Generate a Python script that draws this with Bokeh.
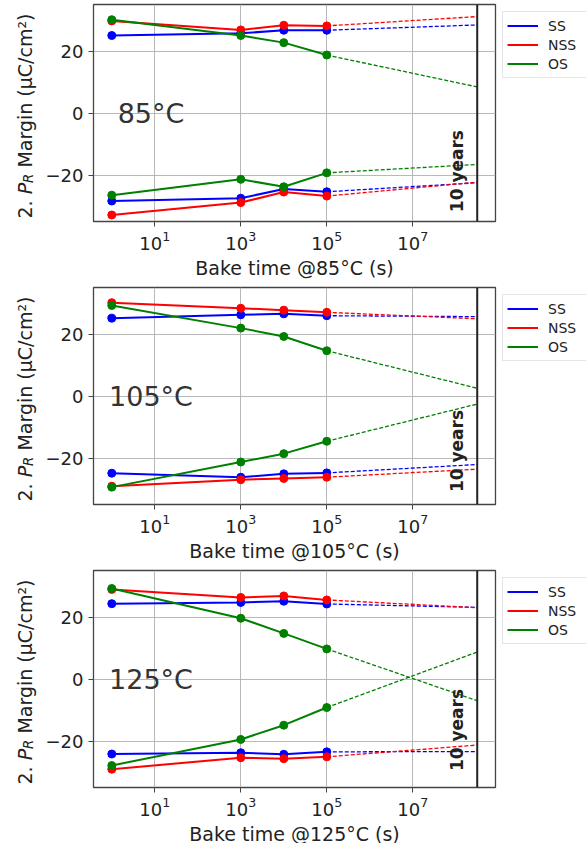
import numpy as np
from bokeh.plotting import figure
from bokeh.models import (Range1d, FixedTicker, LogTickFormatter, Label, Legend,
                          LegendItem, Span)
from bokeh.layouts import column, row
from bokeh.embed import file_html
from bokeh.resources import INLINE

# ---------------- data ----------------
bake_time = [1, 1e3, 1e4, 1e5]          # s
ten_years = 3.15e8                       # s
temps = ["85°C", "105°C", "125°C"]
series_names = ["SS", "NSS", "OS"]

# 85 °C
ss_up_85 = [25.0, 25.7, 26.7, 26.7]
nss_up_85 = [29.7, 26.8, 28.3, 28.1]
os_up_85 = [30.1, 25.0, 22.7, 18.7]
ss_lo_85 = [-28.4, -27.5, -24.5, -25.4]
nss_lo_85 = [-32.9, -28.9, -25.5, -26.8]
os_lo_85 = [-26.5, -21.4, -23.8, -19.3]
# extrapolated values at 10 years (up SS, NSS, OS, low SS, NSS, OS)
ext10y_85 = [28.4, 31.1, 8.4, -22.5, -22.3, -16.6]

# 105 °C
ss_up_105 = [25.1, 26.2, 26.5, 25.9]
nss_up_105 = [30.1, 28.3, 27.7, 27.0]
os_up_105 = [29.2, 21.9, 19.2, 14.6]
ss_lo_105 = [-24.9, -26.2, -25.1, -24.8]
nss_lo_105 = [-29.1, -27.0, -26.6, -26.2]
os_lo_105 = [-29.4, -21.3, -18.6, -14.6]
ext10y_105 = [25.6, 24.9, 2.5, -22.1, -23.6, -2.6]

# 125 °C
ss_up_125 = [24.3, 24.7, 25.1, 24.2]
nss_up_125 = [28.9, 26.3, 26.8, 25.5]
os_up_125 = [29.2, 19.6, 14.7, 9.7]
ss_lo_125 = [-24.2, -23.8, -24.3, -23.5]
nss_lo_125 = [-29.1, -25.4, -25.7, -25.1]
os_lo_125 = [-27.9, -19.5, -14.9, -9.2]
ext10y_125 = [23.1, 23.0, -7.0, -23.4, -21.3, 8.7]

y_ticks = [-20, 0, 20]
x_ticks = [1e1, 1e3, 1e5, 1e7]
y_lim = (-35, 35)

panels = [
    dict(temp=temps[0], up=[ss_up_85, nss_up_85, os_up_85],
         lo=[ss_lo_85, nss_lo_85, os_lo_85], ext=ext10y_85),
    dict(temp=temps[1], up=[ss_up_105, nss_up_105, os_up_105],
         lo=[ss_lo_105, nss_lo_105, os_lo_105], ext=ext10y_105),
    dict(temp=temps[2], up=[ss_up_125, nss_up_125, os_up_125],
         lo=[ss_lo_125, nss_lo_125, os_lo_125], ext=ext10y_125),
]

# ---------------- style / layout ----------------
colors = ["#0000ff", "#ff0000", "#008000"]
FONT = "DejaVu Sans"
TXT = "#222222"
LAB_W = 42              # width of the strip that holds the y-axis title
BORDER_TOP = 4
FRAME_W, FRAME_H = 402, 217
decade_label_y = [-32, -31, -29.7]   # where the "10 years" note starts


def ylabel_strip(height, fs=19):
    s = figure(width=LAB_W, height=height, frame_width=LAB_W, frame_height=height,
               x_range=Range1d(0, LAB_W), y_range=Range1d(0, height),
               output_backend="svg", toolbar_location=None, min_border=0,
               x_axis_location=None, y_axis_location=None)
    s.outline_line_color = None
    s.grid.visible = False
    base_x = 24.5
    pos = height - (BORDER_TOP + FRAME_H) + 7.0
    pieces = [("2.", fs, "normal", 0.0, 1.272),
              ("P", fs, "italic", 0.0, 0.603),
              ("R", fs * 0.7, "italic", 3.5, 0.695 + 0.318 / 0.7),
              ("Margin (μC/cm²)", fs, "normal", 0.0, 8.2)]
    for txt, size, style, shift, em in pieces:
        s.add_layout(Label(x=base_x + shift, y=pos, text=txt, angle=90,
                           angle_units="deg", text_font=FONT,
                           text_font_size=f"{size:.1f}px", text_font_style=style,
                           text_baseline="alphabetic", text_align="left",
                           text_color=TXT))
        pos += em * size
    return s


def make_panel(k, pd, last):
    bottom = 56 if last else 62
    xmin = bake_time[0] / 10 ** 0.425
    xmax = ten_years * 10 ** 0.425
    p = figure(frame_width=FRAME_W, frame_height=FRAME_H, x_axis_type="log",
               x_range=Range1d(xmin, xmax), y_range=Range1d(*y_lim),
               output_backend="svg", toolbar_location=None,
               min_border_left=93 - LAB_W, min_border_right=91,
               min_border_top=BORDER_TOP, min_border_bottom=bottom)
    p.background_fill_color = "white"
    p.outline_line_color = "#444444"
    p.outline_line_width = 1.3

    for ax in (p.xaxis[0], p.yaxis[0]):
        ax.axis_line_color = None
        ax.major_tick_line_color = "#444444"
        ax.major_tick_out = 5
        ax.major_tick_in = 0
        ax.minor_tick_line_color = None
        ax.major_label_text_font = FONT
        ax.major_label_text_font_size = "18px"
        ax.major_label_text_color = TXT
        ax.axis_label_text_font = FONT
        ax.axis_label_text_font_size = "19px"
        ax.axis_label_text_font_style = "normal"
        ax.axis_label_text_color = TXT

    p.xaxis.ticker = FixedTicker(ticks=x_ticks, minor_ticks=[])
    p.xaxis.formatter = LogTickFormatter()
    p.xaxis.major_label_standoff = 4
    p.xaxis.axis_label = f"Bake time @{pd['temp']} (s)"
    p.xaxis.axis_label_standoff = 4

    p.yaxis.ticker = FixedTicker(ticks=y_ticks, minor_ticks=[])
    p.yaxis.major_label_overrides = {t: (f"\u2212{abs(t)}" if t < 0 else str(t))
                                     for t in y_ticks}
    p.yaxis.major_label_standoff = 5

    p.xgrid.ticker = FixedTicker(ticks=x_ticks, minor_ticks=[])
    p.ygrid.ticker = FixedTicker(ticks=y_ticks, minor_ticks=[])
    for g in (p.xgrid[0], p.ygrid[0]):
        g.grid_line_color = "#b0b0b0"
        g.grid_line_width = 0.9

    legend_rs = []
    for i, name in enumerate(series_names):
        c = colors[i]
        first = None
        for j, vals in enumerate((pd["up"][i], pd["lo"][i])):
            r = p.line(bake_time, vals, line_color=c, line_width=2)
            p.scatter(bake_time, vals, size=8, fill_color=c, line_color=c)
            ext = pd["ext"][i + 3 * j]
            p.line([bake_time[-1], ten_years], [vals[-1], ext], line_color=c,
                   line_width=1.3, line_dash="4 2")
            if first is None:
                first = r
        legend_rs.append(LegendItem(label=name, renderers=[first]))

    p.add_layout(Span(location=ten_years, dimension="height",
                      line_color="#222222", line_width=2))

    p.add_layout(Label(x=ten_years, y=decade_label_y[k], x_offset=-20,
                       text="10 years", angle=90, angle_units="deg",
                       text_font=FONT, text_font_size="17px",
                       text_font_style="bold", text_baseline="alphabetic",
                       text_align="left", text_color=TXT))

    p.add_layout(Label(x=xmin, y=0, x_offset=57.5, text=pd["temp"],
                       text_font=FONT, text_font_size="27px",
                       text_align="center", text_baseline="alphabetic",
                       text_color="#333333"))

    legend = Legend(items=legend_rs, location="top_left", margin=7, padding=4,
                    spacing=0, label_height=19, glyph_height=19, glyph_width=31,
                    label_standoff=10, label_width=34,
                    label_text_font=FONT, label_text_font_size="14px",
                    label_text_color=TXT, border_line_color="#cccccc",
                    border_line_width=1, background_fill_alpha=0.8)
    p.add_layout(legend, "right")

    height = BORDER_TOP + FRAME_H + bottom
    return row(ylabel_strip(height), p, spacing=0)


rows = [make_panel(k, pd, k == len(panels) - 1) for k, pd in enumerate(panels)]
layout = column(*rows, spacing=0)

open("out.html", "w").write(file_html(layout, INLINE))
